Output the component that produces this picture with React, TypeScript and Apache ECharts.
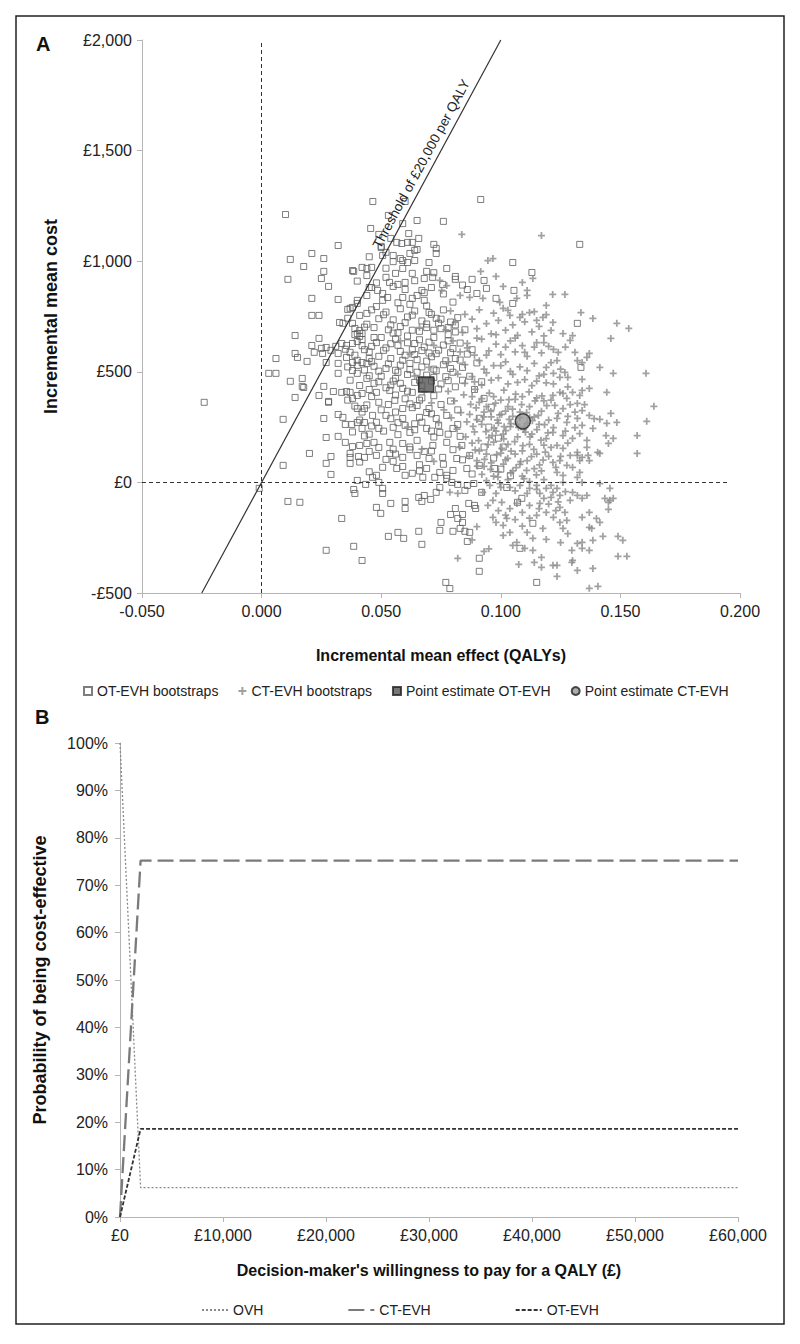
import React, { useEffect, useRef } from "react";
import * as echarts from "echarts";

// ---------- Panel A: cost-effectiveness plane ----------
const xTicksA = { min: -0.05, max: 0.2, interval: 0.05 };
const yTicksA = { min: -500, max: 2000, interval: 500 };

// OT-EVH bootstrap replicates (incremental QALYs, incremental cost £)
const otEvhBootstraps: [number, number][] = [
  [-0.024,362],[0.010,1211],[0.0465,1270],[0.060,1270],[0.053,1207],[0.065,1184],[0.076,1180],[0.059,1170],[0.0456,1148],[0.049,1121],
  [0.0615,1125],[0.0657,1103],[0.032,1071],[0.050,1067],[0.072,1076],[0.073,1035],[0.064,1049],[0.021,1035],[0.012,1008],[0.026,1012],
  [0.0176,976],[0.026,954],[0.025,922],[0.011,918],[0.028,886],[0.021,832],[0.032,827],[0.021,755],[0.024,755],[0.014,664],
  [0.006,560],[0.003,493],[0.006,493],[0.012,457],[0.017,470],[0.017,434],[0.014,384],[0.009,285],[0.020,131],[0.009,77],
  [0.015,565],[0.019,547],[0.026,434],[0.028,366],[0.026,289],[0.027,203],[0.029,117],[0.027,86],[0.029,36],[0.032,208],[0.035,181],
  [-0.001,-27],[0.011,-86],[0.016,-90],[0.0335,-163],[0.027,-307],[0.0385,-289],[0.042,-353],[0.040,9],[0.0435,-9],[0.0385,-32],
  [0.039,-50],[0.037,131],[0.037,113],[0.037,86],[0.0405,117],[0.043,113],[0.032,307],[0.034,294],[0.040,334],[0.043,334],
  [0.024,393],[0.028,362],[0.0176,429],[0.030,411],[0.0335,407],[0.0355,411],[0.037,407],[0.038,380],[0.040,393],[0.042,402],
  [0.0377,262],[0.040,271],[0.043,271],[0.042,244],[0.041,167],[0.044,176],
  [0.0385,954],[0.042,972],[0.044,967],[0.036,782],[0.038,791],[0.040,809],[0.0326,723],[0.034,719],[0.038,719],[0.039,696],
  [0.041,687],[0.042,673],[0.041,755],[0.044,764],[0.024,651],[0.021,619],[0.025,606],[0.027,610],[0.029,597],[0.031,615],
  [0.0335,628],[0.0355,619],[0.032,583],[0.0255,583],[0.022,588],[0.014,583],[0.027,542],[0.032,538],[0.032,493],[0.0355,565],
  [0.037,588],[0.038,542],[0.040,529],[0.038,506],[0.040,493],[0.042,542],[0.044,538],[0.040,673],[0.041,660],[0.042,646],
  [0.038,628],[0.040,637],[0.038,958],[0.045,881],[0.040,823],[0.044,845],[0.037,787],
  [0.0916,1279],[0.063,1085],[0.073,1058],[0.054,1103],[0.0565,1085],[0.0586,1080],[0.061,1085],[0.050,1062],[0.052,1040],[0.0506,1026],
  [0.055,1026],[0.058,1012],[0.065,1053],[0.046,972],[0.059,1003],[0.061,994],[0.064,1003],[0.059,967],[0.063,945],[0.070,994],
  [0.069,954],[0.0715,927],[0.0774,967],[0.105,994],[0.113,949],[0.081,931],[0.081,918],[0.088,918],[0.093,913],[0.052,927],
  [0.0535,904],[0.055,886],[0.057,895],[0.060,904],[0.068,922],[0.071,881],[0.067,868],[0.094,877],[0.086,872],[0.090,854],
  [0.1055,868],[0.0757,895],[0.046,881],[0.0485,868],[0.0506,854],[0.0527,836],[0.0506,823],[0.059,836],[0.063,832],[0.065,845],
  [0.068,823],[0.098,832],[0.105,809],[0.133,1076],[0.132,719],[0.1335,520],
  [0.0464,23],[0.049,0],[0.0506,-27],[0.0506,-50],[0.048,-113],[0.0498,-140],[0.054,-95],[0.060,-86],[0.060,-118],[0.0657,-68],
  [0.067,-86],[0.068,-59],[0.0707,-77],[0.053,-244],[0.057,-226],[0.0594,-253],[0.0657,-221],[0.067,-280],[0.075,-181],[0.0745,-217],
  [0.080,-221],[0.079,-145],[0.081,-118],[0.082,-163],[0.084,-181],[0.084,-145],[0.083,-208],[0.085,-221],[0.087,-226],[0.086,-267],
  [0.0866,-95],[0.089,-104],[0.0895,-118],[0.091,-343],[0.091,-402],[0.077,-452],[0.115,-452],[0.1134,-185],[0.0887,-5],[0.092,-45],
  [0.082,-9],[0.086,-14],[0.085,-36],[0.073,-45],[0.0745,-23],[0.0795,0],[0.0774,18],[0.0724,23],[0.0975,63],[0.1025,-23],
  [0.1088,-72],[0.107,-90],[0.108,-298],[0.0787,-480],
  [0.048,407],[0.0536,416],[0.059,425],[0.063,407],[0.049,362],[0.0557,371],[0.059,334],[0.065,348],[0.070,334],[0.0464,303],
  [0.052,303],[0.059,289],[0.066,294],[0.073,289],[0.0774,303],[0.049,244],[0.055,249],[0.062,226],[0.069,244],[0.0745,226],
  [0.080,244],[0.047,181],[0.0536,181],[0.059,176],[0.065,190],[0.0716,167],[0.0774,181],[0.0837,167],[0.048,122],[0.0536,131],
  [0.059,113],[0.065,122],[0.070,108],[0.0757,113],[0.0816,108],[0.087,122],[0.0506,68],[0.0565,63],[0.063,41],[0.069,63],
  [0.0745,45],[0.080,54],[0.0858,63],[0.091,77],[0.048,32],[0.060,32],[0.0674,23],[0.0774,32],
  [0.046,780],[0.052,770],[0.058,785],[0.064,775],[0.070,768],[0.076,780],[0.049,740],[0.055,735],[0.061,748],[0.067,730],
  [0.073,742],[0.079,725],[0.047,700],[0.053,690],[0.058,705],[0.063,688],[0.069,700],[0.075,695],[0.081,680],[0.050,655],
  [0.056,648],[0.061,662],[0.066,645],[0.072,655],[0.078,640],[0.046,615],[0.052,608],[0.057,620],[0.063,600],[0.068,612],
  [0.074,598],[0.080,605],[0.049,570],[0.054,560],[0.060,575],[0.065,555],[0.071,568],[0.077,550],[0.047,525],[0.052,515],
  [0.058,530],[0.062,510],[0.067,522],[0.073,505],[0.079,515],[0.050,480],[0.056,470],[0.061,488],[0.066,462],[0.072,475],
  [0.078,460],[0.047,448],[0.054,440],[0.075,445],
  [0.071,760],[0.074,720],[0.078,700],[0.082,745],[0.085,690],[0.083,630],[0.086,580],[0.081,560],[0.084,520],[0.088,600],
  [0.090,540],[0.087,480],[0.092,455],[0.089,420],[0.093,380],[0.096,340],[0.091,290],[0.095,250],[0.099,200],[0.093,160],
  [0.097,110],[0.101,160],[0.100,60],[0.104,30],
  [0.044,715],[0.047,655],[0.043,600],[0.045,560],[0.044,470],[0.045,420],[0.044,350],[0.046,255],[0.043,210],[0.045,140],
  [0.057,812],[0.062,805],[0.069,798],[0.055,675],[0.064,628],[0.070,585],[0.057,498],[0.069,485],[0.056,395],[0.062,355],
  [0.067,382],[0.071,310],[0.057,270],[0.064,265],[0.072,205],[0.055,150],[0.062,160],[0.068,140],[0.055,95],[0.066,80],
  [0.036,742],[0.039,668],[0.043,702],[0.048,795],[0.051,758],[0.054,712],[0.057,676],[0.060,722],[0.063,756],[0.066,683],
  [0.069,716],[0.072,688],[0.075,738],[0.078,668],[0.081,712],[0.035,602],[0.039,575],[0.042,618],[0.045,590],[0.048,632],
  [0.051,597],[0.054,627],[0.058,592],[0.061,631],[0.064,578],[0.067,596],[0.070,634],[0.073,582],[0.076,621],[0.079,586],
  [0.036,522],[0.040,552],[0.043,508],[0.046,546],[0.049,503],[0.053,536],[0.056,507],[0.059,552],[0.062,538],[0.065,498],
  [0.069,548],[0.072,512],[0.076,532],[0.080,498],[0.083,553],[0.037,462],[0.041,438],[0.045,482],[0.049,455],[0.052,428],
  [0.055,458],[0.058,448],[0.061,412],[0.064,452],[0.067,438],[0.071,458],[0.074,422],[0.077,478],[0.081,432],[0.084,462],
  [0.036,372],[0.039,345],[0.042,318],[0.046,388],[0.050,328],[0.053,352],[0.056,318],[0.060,378],[0.063,338],[0.066,372],
  [0.069,316],[0.072,392],[0.075,352],[0.079,368],[0.082,328],[0.035,262],[0.038,228],[0.041,282],[0.045,218],[0.048,272],
  [0.051,232],[0.054,288],[0.057,216],[0.060,258],[0.064,238],[0.067,272],[0.071,232],[0.074,258],[0.078,218],[0.082,262],
  [0.038,162],[0.041,92],[0.045,48],[0.049,158],[0.052,104],[0.056,128],[0.059,72],[0.062,148],[0.066,52],[0.071,142],
  [0.076,82],[0.080,148],[0.084,102],[0.088,38],[0.083,208],[0.040,910],[0.044,935],[0.048,902],[0.052,968],[0.056,945],
  [0.060,872],[0.064,912],[0.068,858],[0.072,948],[0.076,852],[0.080,815],[0.084,892],[0.055,998],[0.062,1035],[0.045,1020]
];

// CT-EVH bootstrap replicates
const ctEvhBootstraps: [number, number][] = [
  [0.0837,1121],[0.117,1116],[0.0946,1003],[0.0967,1012],[0.0916,954],[0.098,931],[0.109,904],[0.1134,922],[0.101,886],[0.0745,913],
  [0.0774,890],[0.0753,868],[0.083,845],[0.087,836],[0.0925,832],[0.119,800],[0.0996,814],[0.1067,832],[0.111,845],[0.101,787],
  [0.1038,755],[0.108,746],[0.112,768],[0.115,732],[0.1176,746],[0.111,868],
  [0.1217,850],[0.1268,850],[0.1335,768],[0.1385,741],[0.1485,719],[0.1535,696],[0.1218,723],[0.121,687],[0.126,673],[0.130,664],
  [0.129,642],[0.146,651],[0.122,601],[0.1235,551],[0.121,542],[0.132,551],[0.134,542],[0.136,565],[0.137,583],[0.1414,520],
  [0.147,493],[0.1607,493],[0.122,493],[0.1247,475],[0.1268,497],[0.128,475],[0.134,466],
  [0.1443,407],[0.164,344],[0.146,312],[0.161,276],[0.1414,285],[0.1443,267],[0.1485,271],[0.157,212],[0.144,212],[0.147,199],
  [0.145,176],[0.157,131],[0.1405,136],[0.1414,131],[0.132,122],[0.1365,122],[0.133,99],[0.1456,-27],[0.1435,-72],[0.1456,-81],
  [0.147,-72],[0.145,-90],[0.145,-122],[0.137,-136],[0.134,-158],[0.140,-163],[0.1414,-181],[0.137,-203],[0.138,-208],[0.1427,-244],
  [0.149,-244],[0.151,-262],[0.1385,-262],[0.134,-271],[0.132,-276],[0.134,-298],[0.137,-307],[0.1297,-307],[0.149,-334],[0.1527,-334],
  [0.130,-353],[0.1297,-362],[0.1218,-375],[0.1235,-375],[0.132,-398],[0.1385,-389],[0.1235,-425],[0.137,-479],[0.1406,-470],[0.126,0],
  [0.134,0],[0.1414,-5],[0.130,-45],[0.132,-59],[0.129,-81],[0.134,-72],[0.136,-59],[0.1247,-113],[0.1268,-136],[0.122,-158],
  [0.1247,-181],[0.1276,-172],[0.121,-14],[0.1235,-27],[0.1218,-45],[0.1247,-59],
  [0.1218,393],[0.1247,407],[0.1276,380],[0.130,407],[0.133,393],[0.134,416],[0.137,425],[0.1226,348],[0.126,334],[0.132,357],
  [0.134,325],[0.137,303],[0.1235,289],[0.1276,271],[0.132,289],[0.134,258],[0.1385,244],[0.1218,226],[0.126,212],[0.130,199],
  [0.133,221],[0.136,190],[0.1235,167],[0.126,154],[0.129,122],[0.132,136],[0.134,113],[0.137,99],[0.1218,90],[0.1247,99],
  [0.1276,77],[0.130,68],[0.133,45],[0.1235,45],[0.126,32],[0.132,23],
  [0.0787,-45],[0.082,-50],[0.082,-343],[0.093,-312],[0.1075,-371],[0.117,-339],[0.117,-384],[0.114,-362],[0.110,-298],[0.1134,-307],
  [0.105,-285],[0.1067,-271],[0.0967,-158],[0.098,-181],[0.101,-194],[0.1025,-163],[0.1038,-226],[0.101,-240],[0.111,-226],[0.1134,-253],
  [0.1176,-208],[0.115,-149],[0.119,-136],[0.0946,-104],[0.0967,-81],[0.1004,-90],[0.1038,-118],[0.1067,-95],[0.109,-136],[0.112,-104],
  [0.1163,-95],[0.118,-72],[0.0954,-14],[0.0996,-5],[0.1038,-23],[0.108,-14],[0.112,-27],[0.115,-14],[0.119,-27],[0.0925,-45],
  [0.098,-50],[0.111,-50],[0.1163,-50],[0.088,-260],[0.095,-300],[0.090,-200],
  [0.078,412],[0.0845,396],[0.0893,421],[0.0952,404],[0.1013,417],[0.1062,399],[0.1118,409],[0.1172,391],[0.0806,368],[0.0874,353],
  [0.0921,379],[0.0978,358],[0.1034,374],[0.1087,352],[0.1143,369],[0.1192,347],[0.0762,328],[0.0833,316],[0.0897,337],[0.0958,321],
  [0.1003,308],[0.1049,331],[0.1108,316],[0.1157,303],[0.0793,292],[0.0858,274],[0.0929,296],[0.0986,281],[0.1042,266],[0.1079,293],
  [0.1132,279],[0.1183,261],[0.0817,241],[0.0884,253],[0.0938,229],[0.0972,246],[0.1021,234],[0.1074,249],[0.1103,227],[0.1151,239],
  [0.1197,224],[0.0853,206],[0.0907,189],[0.0964,211],[0.1012,197],[0.1058,184],[0.1122,206],[0.1168,191],[0.0828,159],[0.0893,147],
  [0.0947,171],[0.1004,154],[0.1043,141],[0.1092,166],[0.1138,149],[0.1186,137],[0.0868,119],[0.0932,104],[0.0983,126],[0.1029,109],
  [0.1083,94],[0.1128,117],[0.1177,101],[0.0902,74],[0.0957,59],[0.1011,83],[0.1064,67],[0.1108,54],[0.1162,79],[0.0921,36],
  [0.0988,24],[0.1042,43],[0.1097,17],[0.1149,34],[0.1035,285],[0.1068,262],[0.1014,252],[0.1095,240],[0.1121,292],[0.0995,305],
  [0.079,775],[0.085,760],[0.091,780],[0.097,765],[0.103,778],[0.109,760],[0.114,772],[0.119,758],[0.081,725],[0.088,738],
  [0.094,718],[0.099,732],[0.105,712],[0.110,726],[0.116,705],[0.077,690],[0.084,678],[0.090,695],[0.096,672],[0.102,688],
  [0.107,665],[0.113,680],[0.118,662],[0.080,640],[0.086,628],[0.092,648],[0.098,625],[0.104,640],[0.109,618],[0.115,632],
  [0.120,615],[0.083,590],[0.089,575],[0.095,595],[0.100,578],[0.106,590],[0.111,570],[0.117,585],[0.078,545],[0.085,532],
  [0.091,550],[0.097,528],[0.102,545],[0.108,522],[0.114,538],[0.119,520],[0.082,490],[0.088,478],[0.094,495],[0.099,472],
  [0.105,488],[0.110,465],[0.116,482],[0.085,448],[0.092,440],[0.103,445],[0.113,438],[0.119,450],
  [0.058,640],[0.062,580],[0.066,700],[0.070,520],[0.072,620],[0.064,480],[0.068,410],[0.071,360],[0.074,270],[0.067,150],
  [0.072,95],[0.061,250],
  [0.088,388],[0.091,362],[0.094,342],[0.097,388],[0.100,372],[0.103,342],[0.106,375],[0.109,388],[0.112,342],[0.115,382],
  [0.118,368],[0.121,372],[0.087,308],[0.090,284],[0.093,318],[0.096,296],[0.099,268],[0.102,322],[0.105,298],[0.108,318],
  [0.111,268],[0.114,296],[0.117,322],[0.120,282],[0.089,228],[0.092,262],[0.095,202],[0.098,232],[0.101,218],[0.104,252],
  [0.107,206],[0.110,248],[0.113,218],[0.116,262],[0.119,198],[0.122,248],[0.088,178],[0.091,142],[0.094,128],[0.097,182],
  [0.100,132],[0.103,172],[0.106,128],[0.109,142],[0.112,172],[0.115,128],[0.118,168],[0.121,158],[0.090,98],[0.093,72],
  [0.096,88],[0.099,48],[0.102,102],[0.105,52],[0.108,82],[0.111,98],[0.114,62],[0.117,52],[0.120,118],[0.123,68],
  [0.094,8],[0.097,28],[0.100,-22],[0.103,12],[0.106,-38],[0.109,28],[0.112,4],[0.115,-32],[0.118,12],[0.121,-68],
  [0.124,-88],[0.127,-42],[0.089,455],[0.093,512],[0.096,462],[0.100,528],[0.104,502],[0.107,452],[0.111,505],[0.115,458],
  [0.118,488],[0.122,445],[0.125,512],[0.128,432],[0.086,608],[0.090,652],[0.094,575],[0.098,668],[0.102,612],[0.106,652],
  [0.110,588],[0.114,612],[0.118,632],[0.124,588],[0.127,612],[0.131,588],[0.099,-128],[0.102,-148],[0.106,-168],[0.109,-198],
  [0.112,-162],[0.116,-118],[0.120,-98],[0.123,-128],[0.126,-208],[0.119,-258],[0.125,-272],[0.128,-232],[0.125,118],[0.128,178],
  [0.131,248],[0.124,312],[0.127,232],[0.129,352],[0.131,318],[0.126,402],[0.128,298],[0.135,352],[0.139,288],[0.136,158]
];

const pointEstimateOT: [number, number][] = [[0.0688, 443]];
const pointEstimateCT: [number, number][] = [[0.1092, 276]];
const thresholdLine: [number, number][] = [[-0.025, -500], [0.1, 2000]];
const thresholdText = "Threshold of £20,000 per QALY";

// ---------- Panel B: CEAC ----------
const wtp = [0, 2000, 10000, 20000, 30000, 40000, 50000, 60000];
const probOVH = [100, 6.2, 6.2, 6.2, 6.2, 6.2, 6.2, 6.2];
const probCTEVH = [0, 75.2, 75.2, 75.2, 75.2, 75.2, 75.2, 75.2];
const probOTEVH = [0, 18.6, 18.6, 18.6, 18.6, 18.6, 18.6, 18.6];

const FONT = "'Liberation Sans', Arial, sans-serif";

function fmtPound(v: number) {
  const s = Math.abs(v).toLocaleString("en-GB");
  return (v < 0 ? "-£" : "£") + s;
}

export default function App() {
  const ref = useRef<HTMLDivElement>(null);
  useEffect(() => {
    if (!ref.current) return;
    const chart = echarts.init(ref.current, undefined, { renderer: "svg" });
    const axisLine = { lineStyle: { color: "#b5b5b5", width: 1 } };
    const axisTick = { show: true, length: 5, lineStyle: { color: "#b5b5b5" } };
    const tickLabel = { color: "#222", fontFamily: FONT, fontSize: 16 };
    const nameText = { color: "#111", fontFamily: FONT, fontWeight: "bold" as const };
    const plus = "path://M3,0H5V3H8V5H5V8H3V5H0V3H3Z";

    chart.setOption({
      animation: false,
      backgroundColor: "#fff",
      textStyle: { fontFamily: FONT },
      grid: [
        { left: 142, right: 60, top: 40, height: 553 },
        { left: 120, right: 62, top: 743, height: 474 },
      ],
      xAxis: [
        {
          gridIndex: 0, type: "value", min: xTicksA.min, max: xTicksA.max, interval: xTicksA.interval,
          axisLine: { ...axisLine, onZero: false }, axisTick, splitLine: { show: false },
          axisLabel: { ...tickLabel, margin: 10, formatter: (v: number) => v.toFixed(3) },
          name: "Incremental mean effect (QALYs)", nameLocation: "middle", nameGap: 54,
          nameTextStyle: { ...nameText, fontSize: 16 },
        },
        {
          gridIndex: 1, type: "value", min: 0, max: 60000, interval: 10000,
          axisLine, axisTick, splitLine: { show: false },
          axisLabel: { ...tickLabel, margin: 10, formatter: (v: number) => fmtPound(v) },
          name: "Decision-maker's willingness to pay for a QALY (£)", nameLocation: "middle", nameGap: 45,
          nameTextStyle: { ...nameText, fontSize: 16 },
        },
      ],
      yAxis: [
        {
          gridIndex: 0, type: "value", min: yTicksA.min, max: yTicksA.max, interval: yTicksA.interval,
          axisLine: { ...axisLine, show: true, onZero: false }, axisTick, splitLine: { show: false },
          axisLabel: { ...tickLabel, margin: 10, formatter: (v: number) => fmtPound(v) },
          name: "Incremental mean cost", nameLocation: "middle", nameGap: 82,
          nameTextStyle: { ...nameText, fontSize: 18 },
        },
        {
          gridIndex: 1, type: "value", min: 0, max: 100, interval: 10,
          axisLine: { ...axisLine, show: true }, axisTick, splitLine: { show: false },
          axisLabel: { ...tickLabel, margin: 12, formatter: (v: number) => v + "%" },
          name: "Probability of being cost-effective", nameLocation: "middle", nameGap: 71,
          nameTextStyle: { ...nameText, fontSize: 18 },
        },
      ],
      legend: [
        {
          data: ["OT-EVH bootstraps", "CT-EVH bootstraps", "Point estimate OT-EVH", "Point estimate CT-EVH"],
          left: 78, top: 679, itemGap: 20, itemWidth: 8, itemHeight: 8,
          textStyle: { fontSize: 14, color: "#222", fontFamily: FONT },
        },
        {
          data: ["OVH", "CT-EVH", "OT-EVH"],
          left: 196, top: 1298, itemGap: 84, itemWidth: 26, itemHeight: 8,
          itemStyle: { opacity: 0 },
          textStyle: { fontSize: 14, color: "#222", fontFamily: FONT },
        },
      ],
      series: [
        {
          name: "OT-EVH bootstraps", type: "scatter", xAxisIndex: 0, yAxisIndex: 0,
          data: otEvhBootstraps, symbol: "rect", symbolSize: 6,
          itemStyle: { color: "rgba(255,255,255,0)", borderColor: "#5e5e5e", borderWidth: 1 },
          silent: true,
          markLine: {
            silent: true, symbol: "none",
            data: [
              [{ coord: [0, yTicksA.min] }, { coord: [0, yTicksA.max] }],
              [{ coord: [xTicksA.min, 0] }, { coord: [0.195, 0] }],
            ],
            lineStyle: { color: "#333", type: [4, 3], width: 1 },
            label: { show: false },
          },
        },
        {
          name: "CT-EVH bootstraps", type: "scatter", xAxisIndex: 0, yAxisIndex: 0,
          data: ctEvhBootstraps, symbol: plus, symbolSize: 7,
          itemStyle: { color: "#8a8a8a" }, silent: true,
        },
        {
          name: "Threshold", type: "line", xAxisIndex: 0, yAxisIndex: 0,
          data: [], symbol: "none", silent: true,
          markLine: {
            silent: true, symbol: "none",
            data: [[{ coord: thresholdLine[0] }, { coord: thresholdLine[1] }]],
            lineStyle: { color: "#333", width: 1.2, type: "solid" },
            label: {
              show: true, position: "insideEndTop", formatter: thresholdText,
              fontSize: 13.5, color: "#222", fontFamily: FONT, distance: [52, 4],
            },
          },
        },
        {
          name: "Point estimate OT-EVH", type: "scatter", xAxisIndex: 0, yAxisIndex: 0,
          data: pointEstimateOT, symbol: "rect", symbolSize: 15, z: 5,
          itemStyle: { color: "#555", borderColor: "#222", borderWidth: 1.5 },
        },
        {
          name: "Point estimate CT-EVH", type: "scatter", xAxisIndex: 0, yAxisIndex: 0,
          data: pointEstimateCT, symbol: "circle", symbolSize: 15, z: 5,
          itemStyle: { color: "#999", borderColor: "#222", borderWidth: 1.5 },
        },
        {
          name: "OVH", type: "line", xAxisIndex: 1, yAxisIndex: 1,
          data: wtp.map((w, i) => [w, probOVH[i]]), symbol: "none",
          lineStyle: { color: "#8a8a8a", width: 1.3, type: [2, 2] },
          itemStyle: { color: "#8a8a8a" },
        },
        {
          name: "CT-EVH", type: "line", xAxisIndex: 1, yAxisIndex: 1,
          data: wtp.map((w, i) => [w, probCTEVH[i]]), symbol: "none",
          lineStyle: { color: "#7a7a7a", width: 2.3, type: [16, 6] },
          itemStyle: { color: "#7a7a7a" },
        },
        {
          name: "OT-EVH", type: "line", xAxisIndex: 1, yAxisIndex: 1,
          data: wtp.map((w, i) => [w, probOTEVH[i]]), symbol: "none",
          lineStyle: { color: "#333", width: 1.8, type: [4, 2] },
          itemStyle: { color: "#333" },
        },
      ],
      graphic: [
        {
          type: "rect", silent: true,
          shape: { x: 16, y: 16, width: 768, height: 1308 },
          style: { fill: "none", stroke: "#222", lineWidth: 1.5 },
        },
        {
          type: "text", left: 36, top: 34,
          style: { text: "A", fontSize: 20, fontWeight: "bold", fill: "#111", fontFamily: FONT },
        },
        {
          type: "text", left: 35, top: 707,
          style: { text: "B", fontSize: 20, fontWeight: "bold", fill: "#111", fontFamily: FONT },
        },
      ],
    });
    return () => chart.dispose();
  }, []);
  return (
    <div
      ref={ref}
      style={{ position: "absolute", left: 0, top: 0, width: 800, height: 1344, background: "#fff" }}
    />
  );
}
